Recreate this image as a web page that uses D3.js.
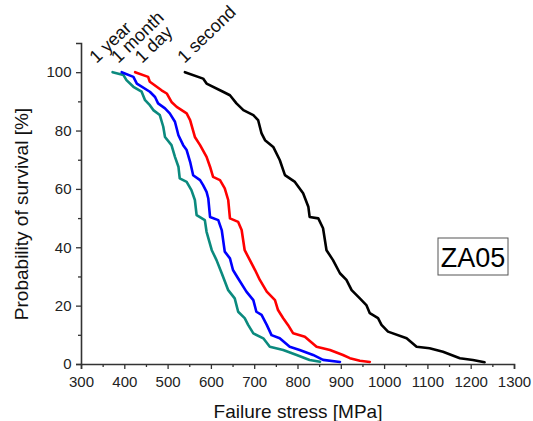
<!DOCTYPE html>
<html>
<head>
<meta charset="utf-8">
<script src="https://cdn.jsdelivr.net/npm/d3@7"></script>
<style>
  html, body { margin: 0; padding: 0; background: #fff; }
  svg { display: block; font-family: "Liberation Sans", Arial, sans-serif; }
</style>
</head>
<body>
<svg id="chart" width="533" height="421"></svg>
<script>
// Failure stress [MPa] vs probability of survival [%] for four load durations
const oneSecond = [
  [540,100],[582,97.8],[590,96.1],[628,93.3],[644,92.1],[659,89.3],[675,87],[698,85.3],
  [709,83.6],[717,79],[725,76.7],[744,74.4],[759,69.9],[771,64.7],[794,62.4],[813,58.5],
  [825,53.9],[828,50.4],[848,49.9],[859,46.5],[867,39],[882,35.6],[898,31.1],[913,28.8],
  [925,25.3],[944,22.5],[959,20.2],[967,17.4],[986,15.7],[994,13.4],[1009,11.1],[1052,8.8],
  [1075,5.9],[1105,5.4],[1136,4.2],[1175,2],[1205,1.4],[1232,0.6]
];
const oneDay = [
  [425,100],[455,98.4],[459,96.7],[486,93.8],[498,92.7],[509,89.8],[521,88.1],[544,85.9],
  [552,83.6],[563,77.8],[575,75],[590,71],[598,67.6],[605,64.1],[621,63],[632,60.2],
  [640,56.2],[644,49.9],[663,48.7],[671,45.9],[678,39],[690,35.6],[702,32.2],[713,28.8],
  [729,24.8],[748,21.9],[755,18.5],[767,15.7],[778,13.4],[790,10.5],[817,9.3],[844,5.9],
  [875,4.8],[905,3.1],[921,2],[944,1.1],[967,0.7]
];
const oneMonth = [
  [394,100],[421,98.4],[429,96.1],[459,93.3],[471,91.5],[478,89.3],[494,87.6],[505,85.9],
  [517,83],[525,78.4],[536,75],[544,73.3],[552,69.3],[559,64.7],[575,63],[582,61.3],
  [590,59],[594,56.7],[598,50.4],[617,49.3],[625,45.9],[632,38.5],[644,36.2],[651,32.2],
  [663,29.3],[682,24.8],[698,21.9],[705,17.9],[717,16.8],[729,13.4],[740,9.9],[759,8.8],
  [782,5.9],[805,4.8],[836,3.1],[859,1.4],[898,0.7]
];
const oneYear = [
  [373,100],[398,99],[405,97.3],[421,95],[440,93.3],[448,90.4],[459,88.7],[467,87],
  [482,85.3],[490,81.3],[494,77.8],[509,75],[517,71],[525,67.6],[528,63.6],[544,62.4],
  [555,59.6],[563,56.2],[567,51],[586,49.3],[590,45.3],[602,39],[613,35.6],[625,31.1],
  [640,25.3],[655,22.5],[663,17.9],[678,15.7],[686,13.4],[698,10.5],[721,8.8],[736,5.9],
  [767,4.8],[798,3.1],[828,1.4],[852,0.8]
];

const seriesNames = ["1 year", "1 month", "1 day", "1 second"];
const seriesColors = ["#0b8a7e", "#0000ff", "#ff0000", "#000000"];
const seriesData = [oneYear, oneMonth, oneDay, oneSecond];
// where each duration label starts (stress, probability)
const labelAnchors = [[336,102.8],[386,102.8],[441,102.8],[539,102.8]];

const xTicks = [300,400,500,600,700,800,900,1000,1100,1200,1300];
const xMinorTicks = [350,450,550,650,750,850,950,1050,1150,1250];
const yTicks = [0,20,40,60,80,100];
const yMinorTicks = [10,30,50,70,90];
const sampleName = "ZA05";

const svg = d3.select("#chart");
const x = d3.scaleLinear().domain([300,1300]).range([81,514]);
const y = d3.scaleLinear().domain([0,110]).range([364,43]);

// curves
const line = d3.line().x(d => x(d[0])).y(d => y(d[1]));
svg.append("g").selectAll("path")
  .data(seriesData)
  .join("path")
  .attr("d", line)
  .attr("fill", "none")
  .attr("stroke", (d,i) => seriesColors[i])
  .attr("stroke-width", 2.6)
  .attr("stroke-linejoin", "round")
  .attr("stroke-linecap", "round");

// axes
const axisColor = "#333";
const gx = svg.append("g").attr("transform", `translate(0,${y(0)})`);
gx.call(d3.axisBottom(x).tickValues(xTicks).tickSize(5).tickFormat(d3.format("d")));
gx.append("g").call(d3.axisBottom(x).tickValues(xMinorTicks).tickSize(3).tickFormat(""))
  .select(".domain").remove();
const gy = svg.append("g").attr("transform", `translate(${x(300)},0)`);
gy.call(d3.axisLeft(y).tickValues(yTicks).tickSize(5).tickFormat(d3.format("d")));
gy.append("g").call(d3.axisLeft(y).tickValues(yMinorTicks).tickSize(3).tickFormat(""))
  .select(".domain").remove();

svg.selectAll(".domain").attr("stroke", axisColor).attr("stroke-width", 1.6);
svg.selectAll(".tick line").attr("stroke", axisColor).attr("stroke-width", 1.3);
svg.selectAll(".tick text").attr("fill", "#222")
  .style("font-family", '"Liberation Sans", Arial, sans-serif').style("font-size", "15px");
gx.selectAll(".tick text").attr("dy", "1.0em");
gy.selectAll(".tick text").attr("dx", "-0.1em");

// axis titles
svg.append("text")
  .attr("x", 298).attr("y", 418)
  .attr("text-anchor", "middle")
  .style("font-size", "19px").attr("fill", "#111")
  .text("Failure stress [MPa]");
svg.append("text")
  .attr("transform", `translate(28,${214}) rotate(-90)`)
  .attr("text-anchor", "middle")
  .style("font-size", "19px").attr("fill", "#111")
  .text("Probability of survival [%]");

// duration labels
svg.append("g").selectAll("text")
  .data(seriesNames)
  .join("text")
  .attr("transform", (d,i) => `translate(${x(labelAnchors[i][0])},${y(labelAnchors[i][1])}) rotate(-44)`)
  .style("font-size", "18px").attr("fill", "#111")
  .text(d => d);

// sample name box
const box = svg.append("g").attr("transform", "translate(438,238)");
box.append("rect").attr("width", 70).attr("height", 37)
  .attr("fill", "#fff").attr("stroke", "#555").attr("stroke-width", 1);
box.append("text").attr("x", 35).attr("y", 28.5)
  .attr("text-anchor", "middle")
  .style("font-size", "27px").attr("fill", "#000")
  .text(sampleName);
</script>
</body>
</html>
